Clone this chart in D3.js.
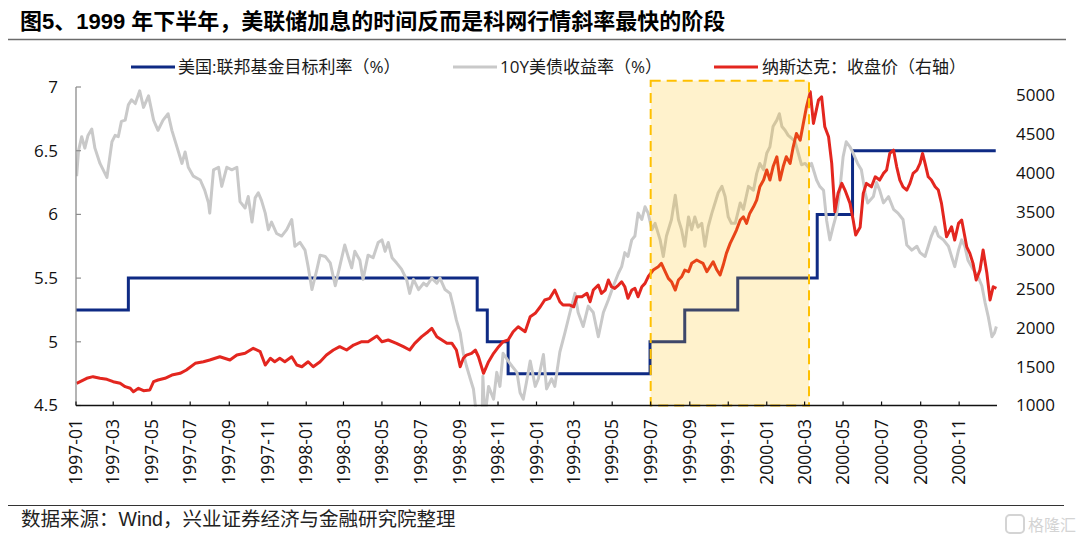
<!DOCTYPE html>
<html><head><meta charset="utf-8">
<script src="https://cdn.jsdelivr.net/npm/d3@7"></script>
<style>
html,body{margin:0;padding:0;background:#fff;}
svg{display:block;}
text{font-family:"Open Sans","Noto Sans CJK SC",sans-serif;}
</style></head>
<body>
<svg id="chart" width="1080" height="537"></svg>
<script>
// ---------- DATA ----------
const title = "图5、1999 年下半年，美联储加息的时间反而是科网行情斜率最快的阶段";
const source = "数据来源：Wind，兴业证券经济与金融研究院整理";
const seriesNames = ["美国:联邦基金目标利率（%）", "10Y美债收益率（%）", "纳斯达克：收盘价（右轴）"];
const seriesColors = ["#0e2a84", "#c9c9c9", "#e3261f"];

const xTickLabels = ["1997-01","1997-03","1997-05","1997-07","1997-09","1997-11",
  "1998-01","1998-03","1998-05","1998-07","1998-09","1998-11",
  "1999-01","1999-03","1999-05","1999-07","1999-09","1999-11",
  "2000-01","2000-03","2000-05","2000-07","2000-09","2000-11"];
const leftTicks = [4.5, 5, 5.5, 6, 6.5, 7];
const rightTicks = [1000,1500,2000,2500,3000,3500,4000,4500,5000];
const highlightPeriod = ["1999-07-01", "2000-03-08"];

// Fed funds target rate (step)
const fedFunds = [
  ["1997-01-01",5.25],["1997-03-25",5.50],["1998-09-29",5.25],["1998-10-15",5.00],
  ["1998-11-17",4.75],["1999-06-30",5.00],["1999-08-24",5.25],["1999-11-16",5.50],
  ["2000-03-21",6.00],["2000-05-16",6.50],["2000-12-29",6.50]
];

// 10Y US Treasury yield (%)
const ust10y = [
  ["1997-01-02",6.30],["1997-01-05",6.50],["1997-01-10",6.61],["1997-01-15",6.52],["1997-01-20",6.62],
  ["1997-01-26",6.67],["1997-01-31",6.52],["1997-02-08",6.40],["1997-02-19",6.29],["1997-02-27",6.57],
  ["1997-03-04",6.62],["1997-03-09",6.61],["1997-03-14",6.73],["1997-03-20",6.74],["1997-03-25",6.86],
  ["1997-03-30",6.90],["1997-04-05",6.87],["1997-04-12",6.97],["1997-04-18",6.84],["1997-04-26",6.93],
  ["1997-05-04",6.74],["1997-05-11",6.66],["1997-05-19",6.74],["1997-05-27",6.79],["1997-06-02",6.66],
  ["1997-06-10",6.53],["1997-06-18",6.40],["1997-06-23",6.49],["1997-06-28",6.37],["1997-07-06",6.30],
  ["1997-07-17",6.27],["1997-07-24",6.19],["1997-07-30",6.09],["1997-08-01",6.01],["1997-08-07",6.35],
  ["1997-08-15",6.37],["1997-08-20",6.22],["1997-08-28",6.37],["1997-09-05",6.35],["1997-09-13",6.37],
  ["1997-09-18",6.10],["1997-09-26",6.05],["1997-10-01",6.14],["1997-10-07",5.94],["1997-10-12",6.13],
  ["1997-10-17",6.17],["1997-10-22",6.11],["1997-10-28",6.01],["1997-11-02",5.88],["1997-11-07",5.94],
  ["1997-11-15",5.85],["1997-11-23",5.83],["1997-12-01",5.88],["1997-12-09",5.96],["1997-12-14",5.75],
  ["1997-12-22",5.78],["1997-12-30",5.72],["1998-01-04",5.59],["1998-01-10",5.41],["1998-01-18",5.57],
  ["1998-01-23",5.68],["1998-01-31",5.67],["1998-02-08",5.62],["1998-02-16",5.44],["1998-02-23",5.59],
  ["1998-03-03",5.76],["1998-03-09",5.66],["1998-03-14",5.58],["1998-03-19",5.71],["1998-03-27",5.64],
  ["1998-04-01",5.49],["1998-04-09",5.68],["1998-04-17",5.66],["1998-04-25",5.78],["1998-05-01",5.80],
  ["1998-05-06",5.71],["1998-05-11",5.78],["1998-05-17",5.66],["1998-05-24",5.62],["1998-06-01",5.57],
  ["1998-06-09",5.49],["1998-06-14",5.38],["1998-06-20",5.49],["1998-06-28",5.41],["1998-07-06",5.46],
  ["1998-07-11",5.44],["1998-07-19",5.50],["1998-07-27",5.46],["1998-08-01",5.50],["1998-08-09",5.41],
  ["1998-08-17",5.38],["1998-08-22",5.28],["1998-08-27",5.17],["1998-09-02",5.07],["1998-09-07",4.91],
  ["1998-09-12",4.81],["1998-09-18",4.71],["1998-09-23",4.63],["1998-09-28",4.42],["1998-10-03",4.30],
  ["1998-10-06",4.20],["1998-10-08",4.73],["1998-10-11",4.40],["1998-10-17",4.65],["1998-10-25",4.55],
  ["1998-10-30",4.76],["1998-11-04",4.65],["1998-11-09",4.91],["1998-11-17",4.85],["1998-11-23",4.81],
  ["1998-12-01",4.76],["1998-12-06",4.60],["1998-12-11",4.55],["1998-12-16",4.68],["1998-12-22",4.85],
  ["1998-12-30",4.65],["1999-01-04",4.71],["1999-01-12",4.90],["1999-01-17",4.63],["1999-01-25",4.71],
  ["1999-01-30",4.65],["1999-02-07",4.92],["1999-02-15",5.07],["1999-02-23",5.23],["1999-03-03",5.38],
  ["1999-03-08",5.23],["1999-03-16",5.12],["1999-03-24",5.28],["1999-04-01",5.23],["1999-04-09",5.04],
  ["1999-04-17",5.23],["1999-04-25",5.33],["1999-05-03",5.44],["1999-05-11",5.54],["1999-05-16",5.59],
  ["1999-05-21",5.70],["1999-05-26",5.67],["1999-06-01",5.80],["1999-06-06",5.83],["1999-06-11",6.01],
  ["1999-06-17",5.96],["1999-06-22",6.06],["1999-06-27",6.01],["1999-07-03",5.88],["1999-07-08",5.93],
  ["1999-07-16",5.80],["1999-07-21",5.67],["1999-07-26",5.83],["1999-08-03",5.96],["1999-08-09",6.15],
  ["1999-08-14",5.96],["1999-08-19",5.88],["1999-08-24",5.75],["1999-08-30",5.98],["1999-09-04",5.88],
  ["1999-09-09",5.98],["1999-09-14",5.90],["1999-09-20",5.93],["1999-09-25",5.75],["1999-09-30",5.90],
  ["1999-10-06",6.01],["1999-10-11",6.09],["1999-10-16",6.17],["1999-10-22",6.22],["1999-10-27",6.14],
  ["1999-11-01",5.98],["1999-11-06",5.93],["1999-11-12",5.93],["1999-11-20",6.09],["1999-11-25",6.04],
  ["1999-12-03",6.22],["1999-12-11",6.19],["1999-12-16",6.32],["1999-12-21",6.40],["1999-12-27",6.35],
  ["2000-01-01",6.48],["2000-01-06",6.53],["2000-01-11",6.69],["2000-01-17",6.74],["2000-01-21",6.79],
  ["2000-01-25",6.69],["2000-01-30",6.66],["2000-02-04",6.62],["2000-02-09",6.60],["2000-02-15",6.57],
  ["2000-02-20",6.48],["2000-02-25",6.39],["2000-03-02",6.40],["2000-03-07",6.37],["2000-03-12",6.40],
  ["2000-03-20",6.27],["2000-03-25",6.22],["2000-03-31",6.19],["2000-04-05",5.95],["2000-04-10",5.80],
  ["2000-04-15",5.90],["2000-04-21",6.01],["2000-04-26",6.20],["2000-05-01",6.45],["2000-05-06",6.57],
  ["2000-05-12",6.53],["2000-05-17",6.48],["2000-05-24",6.40],["2000-05-30",6.35],["2000-06-05",6.17],
  ["2000-06-09",6.09],["2000-06-18",6.14],["2000-06-23",6.25],["2000-06-28",6.19],["2000-07-04",6.09],
  ["2000-07-12",6.14],["2000-07-20",6.04],["2000-07-27",6.01],["2000-08-04",5.96],["2000-08-10",5.76],
  ["2000-08-18",5.72],["2000-08-26",5.75],["2000-08-31",5.70],["2000-09-08",5.67],["2000-09-13",5.75],
  ["2000-09-18",5.83],["2000-09-24",5.90],["2000-09-29",5.83],["2000-10-07",5.80],["2000-10-15",5.75],
  ["2000-10-20",5.67],["2000-10-25",5.59],["2000-10-31",5.72],["2000-11-05",5.80],["2000-11-10",5.75],
  ["2000-11-15",5.64],["2000-11-23",5.57],["2000-12-01",5.51],["2000-12-07",5.44],["2000-12-12",5.31],
  ["2000-12-17",5.20],["2000-12-23",5.04],["2000-12-27",5.07],["2000-12-30",5.12]
];

// NASDAQ composite close (right axis)
const nasdaq = [
  ["1997-01-02",1286],["1997-01-18",1351],["1997-01-28",1372],["1997-02-08",1351],["1997-02-19",1338],
  ["1997-03-01",1307],["1997-03-12",1286],["1997-03-20",1243],["1997-03-28",1222],["1997-04-02",1178],
  ["1997-04-10",1222],["1997-04-18",1191],["1997-04-28",1200],["1997-05-04",1307],["1997-05-11",1329],
  ["1997-05-22",1351],["1997-06-02",1393],["1997-06-15",1415],["1997-06-25",1458],["1997-07-09",1544],
  ["1997-07-22",1565],["1997-08-01",1587],["1997-08-17",1629],["1997-09-02",1587],["1997-09-13",1651],
  ["1997-09-26",1673],["1997-10-09",1738],["1997-10-20",1694],["1997-10-28",1522],["1997-11-05",1609],
  ["1997-11-12",1565],["1997-11-20",1609],["1997-11-28",1565],["1997-12-09",1629],["1997-12-17",1522],
  ["1997-12-25",1500],["1998-01-04",1565],["1998-01-12",1500],["1998-01-23",1565],["1998-02-02",1651],
  ["1998-02-13",1716],["1998-02-23",1759],["1998-03-06",1716],["1998-03-17",1780],["1998-03-30",1823],
  ["1998-04-09",1823],["1998-04-23",1896],["1998-05-01",1823],["1998-05-11",1845],["1998-05-24",1802],
  ["1998-06-04",1759],["1998-06-14",1716],["1998-06-22",1802],["1998-07-03",1888],["1998-07-13",1952],
  ["1998-07-19",1996],["1998-07-27",1888],["1998-08-04",1845],["1998-08-12",1802],["1998-08-20",1802],
  ["1998-08-27",1716],["1998-09-02",1500],["1998-09-07",1609],["1998-09-12",1651],["1998-09-20",1673],
  ["1998-09-26",1716],["1998-10-01",1629],["1998-10-09",1415],["1998-10-17",1565],["1998-10-25",1673],
  ["1998-11-02",1759],["1998-11-09",1823],["1998-11-17",1845],["1998-11-25",1952],["1998-12-03",2016],
  ["1998-12-14",1952],["1998-12-22",2145],["1998-12-30",2189],["1999-01-07",2274],["1999-01-14",2361],
  ["1999-01-22",2383],["1999-01-30",2490],["1999-02-07",2339],["1999-02-12",2296],["1999-02-23",2296],
  ["1999-03-01",2274],["1999-03-06",2403],["1999-03-14",2403],["1999-03-22",2447],["1999-03-27",2339],
  ["1999-04-01",2490],["1999-04-09",2554],["1999-04-14",2447],["1999-04-20",2490],["1999-04-25",2619],
  ["1999-04-30",2532],["1999-05-05",2511],["1999-05-11",2554],["1999-05-16",2597],["1999-05-21",2532],
  ["1999-05-26",2383],["1999-06-01",2490],["1999-06-06",2511],["1999-06-11",2403],["1999-06-17",2532],
  ["1999-06-22",2576],["1999-06-27",2661],["1999-07-05",2748],["1999-07-13",2790],["1999-07-18",2834],
  ["1999-07-24",2726],["1999-07-29",2640],["1999-08-03",2597],["1999-08-09",2490],["1999-08-14",2619],
  ["1999-08-19",2661],["1999-08-24",2748],["1999-08-30",2726],["1999-09-04",2834],["1999-09-12",2877],
  ["1999-09-17",2855],["1999-09-22",2834],["1999-09-28",2726],["1999-10-03",2790],["1999-10-08",2855],
  ["1999-10-14",2748],["1999-10-19",2683],["1999-10-24",2812],["1999-10-29",2963],["1999-11-04",3092],
  ["1999-11-09",3177],["1999-11-14",3264],["1999-11-20",3393],["1999-11-25",3435],["1999-11-30",3350],
  ["1999-12-05",3479],["1999-12-11",3564],["1999-12-16",3651],["1999-12-21",3822],["1999-12-27",3909],
  ["2000-01-01",4038],["2000-01-06",3909],["2000-01-11",4080],["2000-01-17",4209],["2000-01-22",3909],
  ["2000-01-27",4080],["2000-02-01",4209],["2000-02-07",4124],["2000-02-12",4338],["2000-02-17",4510],
  ["2000-02-23",4424],["2000-02-28",4640],["2000-03-04",4854],["2000-03-10",5048],["2000-03-15",4640],
  ["2000-03-23",4940],["2000-03-28",4983],["2000-04-02",4596],["2000-04-08",4467],["2000-04-13",4124],
  ["2000-04-18",3500],["2000-04-23",3737],["2000-04-29",3866],["2000-05-04",3780],["2000-05-12",3608],
  ["2000-05-17",3393],["2000-05-21",3200],["2000-05-28",3300],["2000-06-02",3737],["2000-06-07",3866],
  ["2000-06-15",3822],["2000-06-21",3951],["2000-06-28",3909],["2000-07-04",3995],["2000-07-09",4038],
  ["2000-07-14",4252],["2000-07-20",4295],["2000-07-25",4080],["2000-07-30",3909],["2000-08-04",3822],
  ["2000-08-10",3780],["2000-08-15",3866],["2000-08-20",3995],["2000-08-26",4038],["2000-08-31",4124],
  ["2000-09-04",4252],["2000-09-08",4124],["2000-09-13",3951],["2000-09-18",3909],["2000-09-24",3822],
  ["2000-09-29",3780],["2000-10-04",3608],["2000-10-12",3177],["2000-10-20",3306],["2000-10-25",3135],
  ["2000-10-31",3350],["2000-11-05",3393],["2000-11-08",3264],["2000-11-13",3048],["2000-11-18",2963],
  ["2000-11-23",2834],["2000-11-28",2619],["2000-12-04",2748],["2000-12-09",3006],["2000-12-15",2705],
  ["2000-12-20",2361],["2000-12-25",2532],["2000-12-30",2511]
];

// ---------- CHART ----------
const parse = d3.timeParse("%Y-%m-%d");
const svg = d3.select("#chart");
const plot = {left: 76, right: 997, top: 87, bottom: 405.5};

const x = d3.scaleTime()
  .domain([parse("1997-01-01"), parse("2000-12-31")])
  .range([plot.left, plot.right]);
const yL = d3.scaleLinear().domain([4.5, 7]).range([plot.bottom, plot.top]);
const yR = d3.scaleLinear().domain([1000, 5000]).range([plot.bottom, 95.5]);

// title
svg.append("text").attr("x", 20).attr("y", 29)
  .attr("font-size", 22).attr("font-weight", "bold").attr("fill", "#000")
  .style("font-family", '"Liberation Sans","Noto Sans CJK SC",sans-serif')
  .text(title);
svg.append("line").attr("x1", 8).attr("x2", 1066).attr("y1", 39.5).attr("y2", 39.5)
  .attr("stroke", "#6b6b6b").attr("stroke-width", 1.3);

// bottom rule + source
svg.append("line").attr("x1", 8).attr("x2", 1064).attr("y1", 505.5).attr("y2", 505.5)
  .attr("stroke", "#333").attr("stroke-width", 1.2);
svg.append("text").attr("x", 21).attr("y", 526).attr("font-size", 19.5).attr("fill", "#222")
  .style("font-family", '"Liberation Sans","Noto Sans CJK SC",sans-serif')
  .text(source);

// watermark
const wm = svg.append("g").attr("transform", "translate(1006,515)");
wm.append("rect").attr("x", 0).attr("y", 0).attr("width", 18).attr("height", 18).attr("rx", 4)
  .attr("fill", "none").attr("stroke", "#d4d4d4").attr("stroke-width", 2);
wm.append("text").attr("x", 22).attr("y", 16).attr("font-size", 16).attr("fill", "#d4d4d4")
  .style("font-family", '"Noto Sans CJK SC",sans-serif').text("格隆汇");

// legend
const legendItems = [
  {x1: 131, x2: 175, tx: 178},
  {x1: 453, x2: 497, tx: 500},
  {x1: 714, x2: 758, tx: 762}
];
const lg = svg.append("g");
legendItems.forEach((it, i) => {
  lg.append("line").attr("x1", it.x1).attr("x2", it.x2).attr("y1", 67).attr("y2", 67)
    .attr("stroke", seriesColors[i]).attr("stroke-width", 3);
  lg.append("text").attr("x", it.tx).attr("y", 67).attr("dy", "0.35em")
    .attr("font-size", 17).attr("fill", "#1a1a1a").text(seriesNames[i]);
});

// clip
svg.append("clipPath").attr("id", "clip").append("rect")
  .attr("x", plot.left).attr("y", 60).attr("width", plot.right - plot.left + 2).attr("height", plot.bottom - 60 + 1);

const g = svg.append("g").attr("clip-path", "url(#clip)");

const fedLine = d3.line().x(d => x(parse(d[0]))).y(d => yL(d[1])).curve(d3.curveStepAfter);
const lLine = d3.line().x(d => x(parse(d[0]))).y(d => yL(d[1]));
const rLine = d3.line().x(d => x(parse(d[0]))).y(d => yR(d[1]));

g.append("path").datum(fedFunds).attr("d", fedLine)
  .attr("fill", "none").attr("stroke", seriesColors[0]).attr("stroke-width", 3).attr("stroke-linejoin", "miter");
g.append("path").datum(ust10y).attr("d", lLine)
  .attr("fill", "none").attr("stroke", seriesColors[1]).attr("stroke-width", 3).attr("stroke-linejoin", "round");
g.append("path").datum(nasdaq).attr("d", rLine)
  .attr("fill", "none").attr("stroke", seriesColors[2]).attr("stroke-width", 3).attr("stroke-linejoin", "round");

// highlight box (semi-transparent overlay)
const hx0 = x(parse(highlightPeriod[0])), hx1 = x(parse(highlightPeriod[1]));
svg.append("rect").attr("x", hx0).attr("y", yL(7.05))
  .attr("width", hx1 - hx0).attr("height", plot.bottom - yL(7.05))
  .attr("fill", "rgba(255,192,0,0.2)").attr("stroke", "#ffc000")
  .attr("stroke-width", 2).attr("stroke-dasharray", "10,6");

// left axis
const axL = svg.append("g");
axL.append("line").attr("x1", plot.left).attr("x2", plot.left).attr("y1", yL(7)).attr("y2", plot.bottom)
  .attr("stroke", "#8c8c8c").attr("stroke-width", 1.3);
leftTicks.forEach(v => {
  axL.append("line").attr("x1", plot.left).attr("x2", plot.left + 5).attr("y1", yL(v)).attr("y2", yL(v))
    .attr("stroke", "#8c8c8c").attr("stroke-width", 1.2);
  axL.append("text").attr("x", 58).attr("y", yL(v)).attr("dy", "0.35em").attr("text-anchor", "end")
    .attr("font-size", 17).attr("fill", "#111").text(d3.format("")(v));
});

// right axis labels
rightTicks.forEach(v => {
  svg.append("text").attr("x", 1016).attr("y", yR(v)).attr("dy", "0.35em")
    .attr("font-size", 17).attr("fill", "#111").text(v);
});

// x axis
const axX = svg.append("g");
axX.append("line").attr("x1", plot.left).attr("x2", plot.right).attr("y1", plot.bottom).attr("y2", plot.bottom)
  .attr("stroke", "#111").attr("stroke-width", 1.3);
xTickLabels.forEach(lbl => {
  const xx = x(parse(lbl + "-01"));
  axX.append("line").attr("x1", xx).attr("x2", xx).attr("y1", plot.bottom).attr("y2", plot.bottom - 4)
    .attr("stroke", "#111").attr("stroke-width", 1.2);
  axX.append("text").attr("transform", `translate(${xx},419) rotate(-90)`)
    .attr("text-anchor", "end").attr("dy", "0.35em")
    .attr("font-size", 17.5).attr("fill", "#111").text(lbl);
});
</script>
</body></html>
